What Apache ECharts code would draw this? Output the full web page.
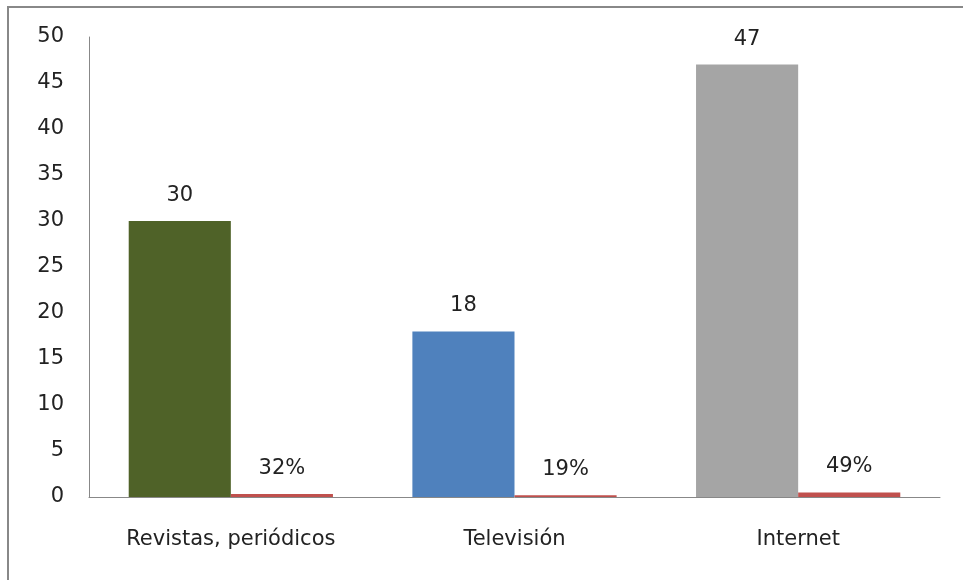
<!DOCTYPE html>
<html>
<head>
<meta charset="utf-8">
<script src="https://cdn.jsdelivr.net/npm/echarts@6/dist/echarts.min.js"></script>
<style>
  html, body { margin: 0; padding: 0; background: #fff; }
  #chart { width: 963px; height: 580px; }
</style>
</head>
<body>
<div id="chart"></div>
<script>
var categories = ["Revistas, periódicos", "Televisión", "Internet"];
var counts = [30, 18, 47];
var shares = [0.32, 0.19, 0.49];
var yTicks = [0, 5, 10, 15, 20, 25, 30, 35, 40, 45, 50];

var barColors = ["#4F6228", "#4F81BD", "#A5A5A5"];
var font = "DejaVu Sans";
var fs = 21;

var chart = echarts.init(document.getElementById("chart"));
var option = {
  animation: false,
  textStyle: { fontFamily: font },
  graphic: [{
    // frame round the chart (only top and left visible)
    type: "rect",
    shape: { x: 8, y: 7, width: 1000, height: 600 },
    style: { fill: "none", stroke: "#888", lineWidth: 2 }
  }],
  grid: { left: 89, right: 23, top: 37, bottom: 83 },
  xAxis: {
    type: "category",
    data: categories,
    axisLine: { lineStyle: { color: "#888", width: 1 } },
    axisTick: { show: false },
    axisLabel: { color: "#222", fontSize: fs, margin: 32, fontFamily: font }
  },
  yAxis: {
    type: "value",
    min: yTicks[0],
    max: yTicks[yTicks.length - 1],
    interval: 5,
    axisLine: { show: true, lineStyle: { color: "#888", width: 1 } },
    axisTick: { show: false },
    splitLine: { show: false },
    axisLabel: { color: "#222", fontSize: fs, margin: 25, fontFamily: font }
  },
  series: [
    {
      name: "Cantidad",
      type: "bar",
      barWidth: "36%",
      barGap: "0%",
      data: counts.map(function (v, i) {
        return { value: v, itemStyle: { color: barColors[i] } };
      }),
      label: { show: true, position: "top", distance: 15, color: "#222", fontSize: fs }
    },
    {
      name: "Porcentaje",
      type: "bar",
      barWidth: "36%",
      data: shares,
      itemStyle: { color: "#C0504D" },
      label: {
        show: true, position: "top", distance: 15, color: "#222", fontSize: fs,
        formatter: function (p) { return Math.round(p.value * 100) + "%"; }
      }
    }
  ]
};
chart.setOption(option);
</script>
</body>
</html>
